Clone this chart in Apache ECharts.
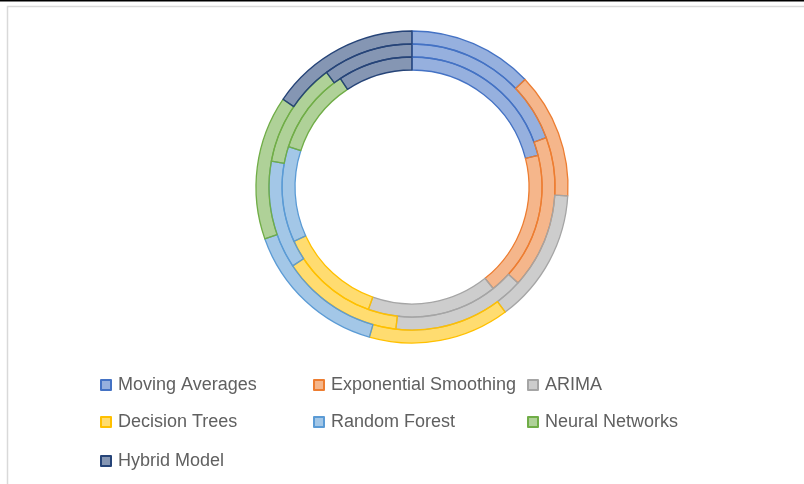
<!DOCTYPE html>
<html>
<head>
<meta charset="utf-8">
<script src="https://cdn.jsdelivr.net/npm/echarts@6/dist/echarts.min.js"></script>
<style>
  html, body { margin: 0; padding: 0; background: #fff; }
  #chart { width: 804px; height: 484px; }
</style>
</head>
<body>
<div id="chart"></div>
<script>
// Forecasting methods shown in each ring
const categories = ['Moving Averages', 'Exponential Smoothing', 'ARIMA', 'Decision Trees', 'Random Forest', 'Neural Networks', 'Hybrid Model'];

// Ring values, innermost first
const ring1 = [21.1, 18.2, 16.2, 12.7, 11.9, 10.7, 9.3];
const ring2 = [19.4, 17.3, 15.1, 13.9, 12.2, 11.9, 10.2];
const ring3 = [12.9, 13.0, 13.9, 14.6, 15.2, 14.9, 15.5];

const lineColors = ['#4472C4', '#ED7D31', '#A5A5A5', '#FFC000', '#5B9BD5', '#70AD47', '#264478'];

function tint(hex, a) {
  const r = parseInt(hex.slice(1, 3), 16), g = parseInt(hex.slice(3, 5), 16), b = parseInt(hex.slice(5, 7), 16);
  return `rgba(${r},${g},${b},${a})`;
}

function ring(name, values, r0, r1) {
  return {
    name: name,
    type: 'pie',
    center: [412, 187],
    radius: [r0, r1],
    startAngle: 90,
    clockwise: true,
    silent: true,
    label: { show: false },
    labelLine: { show: false },
    emphasis: { disabled: true },
    data: categories.map((c, i) => ({
      name: c,
      value: values[i],
      itemStyle: { color: tint(lineColors[i], 0.56), borderColor: lineColors[i], borderWidth: 1.3 }
    }))
  };
}

// Legend grid: three columns, three rows
const colLeft = [95, 308, 522];
const rowTop = [371, 408, 447];

const chart = echarts.init(document.getElementById('chart'), null, { renderer: 'canvas' });
chart.setOption({
  backgroundColor: '#ffffff',
  animation: false,
  graphic: [
    { type: 'rect', shape: { x: 0, y: 0, width: 804, height: 1.5 }, style: { fill: '#000' }, silent: true },
    { type: 'rect', shape: { x: 7.5, y: 6.5, width: 900, height: 600 }, style: { fill: 'none', stroke: '#d9d9d9', lineWidth: 1.5 }, silent: true }
  ],
  legend: categories.map((c, i) => ({
    data: [c],
    left: colLeft[i % 3],
    top: rowTop[Math.floor(i / 3)],
    orient: 'horizontal',
    icon: 'rect',
    itemWidth: 10,
    itemHeight: 10,
    selectedMode: false,
    textStyle: {
      color: '#606060',
      fontFamily: 'Liberation Sans',
      fontSize: 18,
      padding: [0, 0, 0, 2]
    }
  })),
  series: [
    ring('Ring 1', ring1, 117, 130),
    ring('Ring 2', ring2, 130, 143),
    ring('Ring 3', ring3, 143, 156)
  ]
});
</script>
</body>
</html>
